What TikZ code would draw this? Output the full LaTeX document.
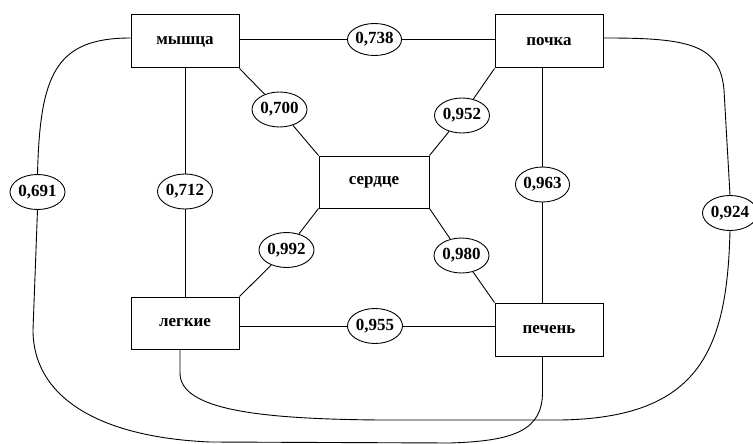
\documentclass[tikz,border=0pt]{standalone}
\usepackage{fontspec}
\setmainfont{Liberation Serif}
\usetikzlibrary{shapes.geometric}
\begin{document}
\begin{tikzpicture}[x=1pt,y=-1pt,
  box/.style={draw,line width=1pt,minimum width=108pt,minimum height=53pt,inner sep=0pt,font=\fontsize{17}{19}\selectfont\bfseries},
  val/.style={draw,ellipse,line width=0.9pt,minimum width=55pt,minimum height=35pt,inner sep=0pt,font=\fontsize{17}{19}\selectfont\bfseries},
  con/.style={line width=0.9pt}]
\useasboundingbox (0,0) rectangle (753,444);
% boxes
\node[box] (m) at (185,41.5) {мышца};
\node[box] (k) at (549,41.5) {почка};
\node[box,minimum width=110pt,minimum height=52pt] (s) at (374,182) {сердце};
\node[box,minimum height=52pt] (l) at (185,323) {легкие};
\node[box] (p) at (549,329.5) {печень};
% values
\node[val,minimum width=53pt,minimum height=32pt] (e738) at (374.5,39.5) {0,738};
\node[val] (e700) at (279.5,109.5) {0,700};
\node[val] (e952) at (462,115.5) {0,952};
\node[val] (e691) at (37.5,192) {0,691};
\node[val] (e712) at (185,191.5) {0,712};
\node[val,minimum width=53pt] (e963) at (542.5,184.5) {0,963};
\node[val] (e924) at (730,213) {0,924};
\node[val] (e992) at (286.5,250) {0,992};
\node[val] (e980) at (461.5,255.5) {0,980};
\node[val] (e955) at (375,326) {0,955};
% horizontal
\draw[con] (m.east |- e738.west) -- (e738.west);
\draw[con] (e738.east) -- (k.west |- e738.east);
\draw[con] (l.east |- e955.west) -- (e955.west);
\draw[con] (e955.east) -- (p.west |- e955.east);
% vertical
\draw[con] (m.south) -- (e712.north);
\draw[con] (e712.south) -- (l.north);
\draw[con] (e963 |- k.south) -- (e963.north);
\draw[con] (e963.south) -- (e963 |- p.north);
% diagonals
\draw[con] (m.south east) -- (e700);
\draw[con] (e700) -- (s.north west);
\draw[con] (k.south west) -- (e952);
\draw[con] (e952) -- (s.north east);
\draw[con] (s.south west) -- (e992);
\draw[con] (e992) -- (l.north east);
\draw[con] (s.south east) -- (e980);
\draw[con] (e980) -- (p.north west);
% muscle - liver
\draw[con] ([yshift=3.5pt]m.west) .. controls (55,38) and (40,75) .. (e691.north);
\draw[con] (e963 |- p.south) -- (542.5,392) .. controls (542.5,430) and (515,441) .. (450,443) -- (210,442) .. controls (95,437) and (33,395) .. (33,330) -- (e691.south);
% lungs - kidney
\draw[con] ([xshift=-5pt]l.south) -- (180,373) .. controls (180,410) and (260,419) .. (380,420) -- (560,420) .. controls (700,418) and (727,350) .. (e924.south);
\draw[con] (e924.north) -- (724,90) .. controls (720,45) and (690,38) .. (607,38) -- ([yshift=3.5pt]k.east);
\end{tikzpicture}
\end{document}
